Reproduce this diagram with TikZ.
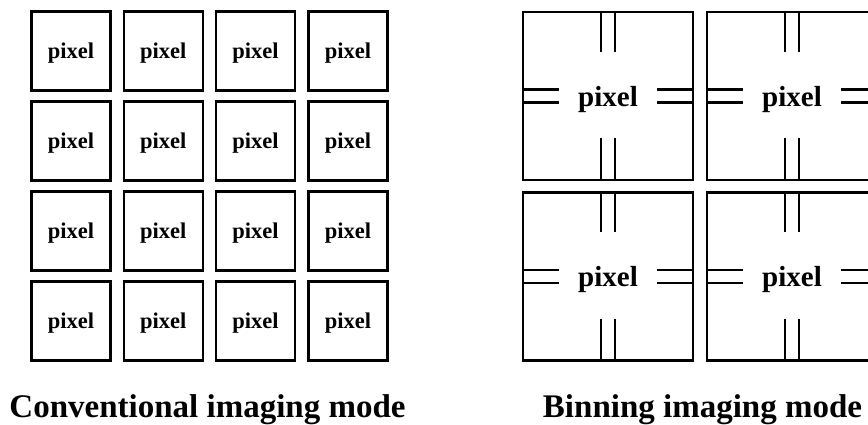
\documentclass[tikz,border=0pt]{standalone}
\usepackage{fontspec}
\setmainfont{Liberation Serif}
\begin{document}
\begin{tikzpicture}[x=1pt,y=-1pt,
 cell/.style={draw, line width=2.6pt, minimum width=79pt, minimum height=79pt, inner sep=0pt, text depth=0pt, font=\fontsize{22.5}{22.5}\selectfont\bfseries},
 bigcell/.style={draw, line width=2.4pt, minimum width=170pt, minimum height=168pt, inner sep=0pt, text depth=0pt, font=\fontsize{29}{29}\selectfont\bfseries},
 wire/.style={line width=2.4pt},
 caption/.style={font=\fontsize{33}{33}\selectfont\bfseries, inner sep=0pt, anchor=base}]
\useasboundingbox (0,0) rectangle (868,425);
\clip (0,0) rectangle (868,425);
\foreach \i in {0,...,3} \foreach \j in {0,...,3} {
  \node[cell] (c\i\j) at ({71+92.3*\i},{51+90*\j}) {pixel};
}
\node[bigcell] (b1) at (608,96) {pixel};
\node[bigcell] (b2) at (792,96) {pixel};
\node[bigcell] (b3) at (608,276.5) {pixel};
\node[bigcell] (b4) at (792,276.5) {pixel};
\foreach \b in {b1,b2,b3,b4} {
  \draw[wire] ([xshift=-7pt]\b.north) -- ++(0,41);
  \draw[wire] ([xshift=7pt]\b.north) -- ++(0,41);
  \draw[wire] ([xshift=-7pt]\b.south) -- ++(0,-43);
  \draw[wire] ([xshift=7pt]\b.south) -- ++(0,-43);
  \draw[wire] ([yshift=6.5pt]\b.west) -- ++(37,0);
  \draw[wire] ([yshift=-6.5pt]\b.west) -- ++(37,0);
  \draw[wire] ([yshift=6.5pt]\b.east) -- ++(-37,0);
  \draw[wire] ([yshift=-6.5pt]\b.east) -- ++(-37,0);
}
\node[caption] (cap1) at (207.5,417) {Conventional imaging mode};
\node[caption] (cap2) at (702.5,417) {Binning imaging mode};
\end{tikzpicture}
\end{document}
